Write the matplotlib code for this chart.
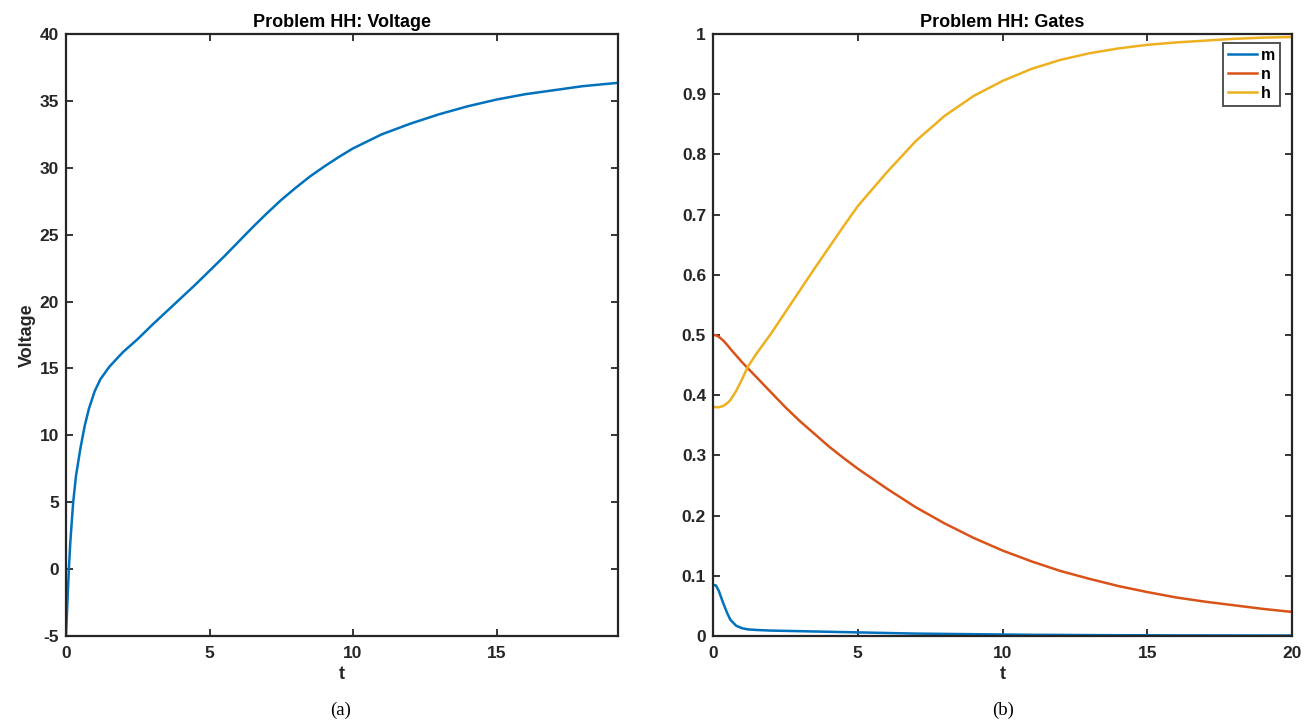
import matplotlib
matplotlib.use("Agg")
import matplotlib.pyplot as plt

# ---- data ----
t_v = [0, 0.05, 0.1, 0.15, 0.25, 0.35, 0.5, 0.65, 0.8, 1.0, 1.2, 1.5, 1.8, 2.0, 2.5,
       3.0, 3.5, 4.0, 4.5, 5.0, 5.5, 6.0, 6.5, 7.0, 7.5, 8.0, 8.5, 9.0, 9.5, 10, 11,
       12, 13, 14, 15, 16, 17, 18, 19.23]
voltage = [-5, -2.4, 0.0, 2.0, 5.0, 7.0, 9.0, 10.7, 12.0, 13.3, 14.2, 15.1, 15.8,
           16.25, 17.2, 18.25, 19.25, 20.25, 21.25, 22.3, 23.35, 24.45, 25.55, 26.6,
           27.6, 28.5, 29.35, 30.1, 30.8, 31.45, 32.5, 33.3, 34.0, 34.6, 35.1, 35.5,
           35.8, 36.1, 36.35]

t_g = [0, 0.1, 0.2, 0.35, 0.5, 0.6, 0.8, 1.0, 1.2, 1.5, 2, 2.5, 3, 3.5, 4, 4.5, 5,
       6, 7, 8, 9, 10, 11, 12, 13, 14, 15, 16, 17, 18, 19, 20]
gate_m = [0.085, 0.084, 0.075, 0.055, 0.037, 0.027, 0.017, 0.013, 0.011, 0.010,
          0.009, 0.0085, 0.008, 0.0075, 0.007, 0.0065, 0.006, 0.005, 0.004, 0.0035,
          0.003, 0.0025, 0.002, 0.0018, 0.0015, 0.0013, 0.0012, 0.001, 0.001,
          0.0009, 0.0008, 0.0008]
gate_n = [0.5, 0.4995, 0.497, 0.491, 0.483, 0.477, 0.466, 0.455, 0.445, 0.43, 0.405,
          0.38, 0.357, 0.336, 0.315, 0.296, 0.278, 0.245, 0.214, 0.187, 0.163, 0.142,
          0.124, 0.108, 0.095, 0.083, 0.073, 0.064, 0.057, 0.051, 0.045, 0.040]
gate_h = [0.381, 0.38, 0.38, 0.382, 0.387, 0.392, 0.407, 0.426, 0.447, 0.469, 0.502,
          0.538, 0.574, 0.61, 0.645, 0.68, 0.714, 0.77, 0.822, 0.864, 0.897, 0.922,
          0.942, 0.957, 0.968, 0.976, 0.982, 0.986, 0.989, 0.992, 0.994, 0.995]

v_yticks = [-5, 0, 5, 10, 15, 20, 25, 30, 35, 40]
v_xticks = [0, 5, 10, 15]
g_yticks = [0, 0.1, 0.2, 0.3, 0.4, 0.5, 0.6, 0.7, 0.8, 0.9, 1]
g_ytick_labels = ["0", "0.1", "0.2", "0.3", "0.4", "0.5", "0.6", "0.7", "0.8", "0.9", "1"]
g_xticks = [0, 5, 10, 15, 20]

c_blue = "#0072BD"
c_red = "#D95319"
c_yel = "#EDB120"
axcol = "#262626"

plt.rcParams['font.family'] = ['Liberation Sans', 'DejaVu Sans']
plt.rcParams['axes.unicode_minus'] = False

TICK_FS = 12.5
LAB_FS = 13

fig = plt.figure(figsize=(13.08, 7.28), dpi=100)
ax1 = fig.add_axes([66/1308, 1-636/728, (618-66)/1308, 602/728])
ax2 = fig.add_axes([713/1308, 1-636/728, (1292-713)/1308, 602/728])

def style(ax):
    for s in ax.spines.values():
        s.set_linewidth(1.6)
        s.set_color(axcol)
    ax.tick_params(direction='in', length=5, width=1.3, color=axcol,
                   top=True, right=True, labelsize=TICK_FS, labelcolor=axcol)
    ax.tick_params(axis='x', pad=7)
    ax.tick_params(axis='y', pad=5)
    for lab in ax.get_xticklabels() + ax.get_yticklabels():
        lab.set_fontweight('bold')

ax1.plot(t_v, voltage, color=c_blue, lw=1.8)
ax1.set_xlim(0, 19.23)
ax1.set_ylim(-5, 40)
ax1.set_xticks(v_xticks)
ax1.set_yticks(v_yticks)
style(ax1)
ax1.set_title("Problem HH: Voltage", fontsize=LAB_FS, fontweight='bold', color='black', pad=5)
ax1.set_xlabel("t", fontsize=LAB_FS, fontweight='bold', color=axcol, labelpad=4)
ax1.set_ylabel("Voltage", fontsize=LAB_FS, fontweight='bold', color=axcol, labelpad=3)

ax2.plot(t_g, gate_m, color=c_blue, lw=1.8, label="m")
ax2.plot(t_g, gate_n, color=c_red, lw=1.8, label="n")
ax2.plot(t_g, gate_h, color=c_yel, lw=1.8, label="h")
ax2.set_xlim(0, 20)
ax2.set_ylim(0, 1)
ax2.set_xticks(g_xticks)
ax2.set_yticks(g_yticks)
ax2.set_yticklabels(g_ytick_labels)
style(ax2)
ax2.set_title("Problem HH: Gates", fontsize=LAB_FS, fontweight='bold', color='black', pad=5)
ax2.set_xlabel("t", fontsize=LAB_FS, fontweight='bold', color=axcol, labelpad=4)
leg = ax2.legend(loc='upper right', bbox_to_anchor=(0.979, 0.985), frameon=True,
                 fancybox=False, edgecolor=axcol, prop={'weight': 'bold', 'size': 11.5},
                 handlelength=1.8, handletextpad=0.25, borderpad=0.3, labelspacing=0.25,
                 borderaxespad=0)
leg.get_frame().set_linewidth(1.4)

fig.text(341/1308, 1-710/728, "(a)", family='Liberation Serif', fontsize=13.5,
         ha='center', va='center')
fig.text(1003/1308, 1-710/728, "(b)", family='Liberation Serif', fontsize=13.5,
         ha='center', va='center')

fig.savefig("out.png", dpi=100)
